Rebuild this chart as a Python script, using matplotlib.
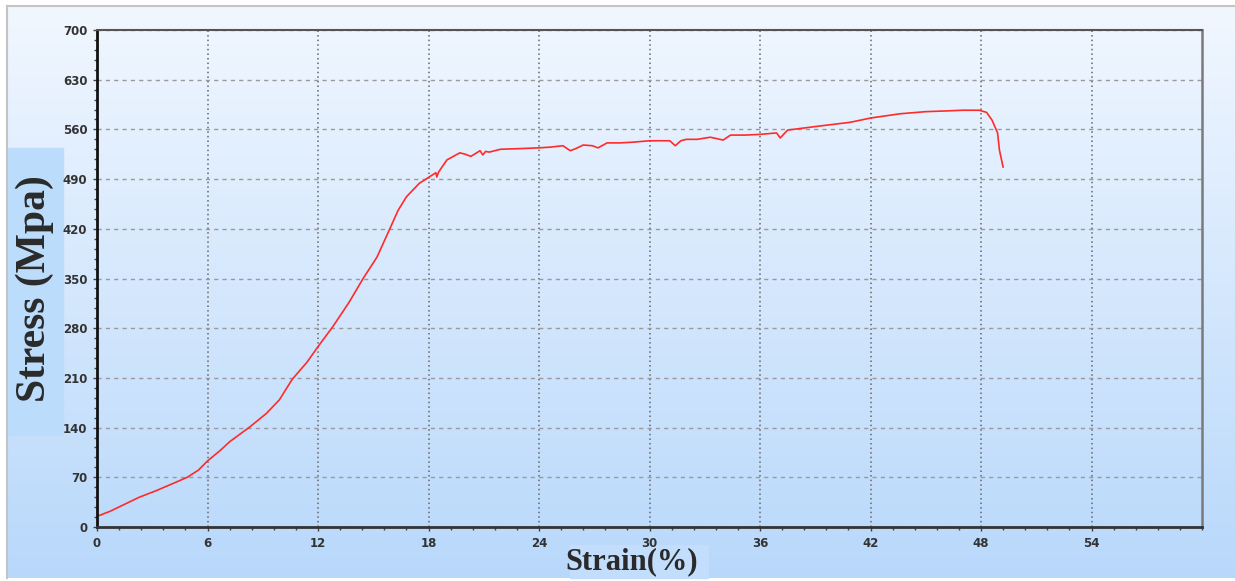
import numpy as np
import matplotlib
matplotlib.use('Agg')
import matplotlib.pyplot as plt
from matplotlib.patches import Rectangle
from matplotlib.ticker import MultipleLocator

# tensile test curve
strain = [0, 0.7, 1.5, 2.3, 3.2, 4.1, 4.9, 5.5, 6.0, 6.7, 7.2, 8.3, 9.2, 9.9, 10.6,
          11.4, 12.0, 12.8, 13.7, 14.45, 15.2, 15.9, 16.35, 16.8, 17.5, 18.1,
          18.4, 18.45, 18.55, 19.0, 19.7, 20.0, 20.3, 20.8, 20.95, 21.1, 21.3, 21.9,
          23.0, 24.0, 24.6, 25.3, 25.7, 26.0, 26.4, 26.9, 27.2, 27.7, 28.4, 29.1, 30.0,
          31.1, 31.4, 31.7, 32.0, 32.6, 33.3, 34.0, 34.4, 35.2, 36.0, 36.9, 37.1, 37.5,
          39.0, 40.9, 42.0, 43.6, 45.0, 46.1, 47.0, 47.9, 48.3, 48.6, 48.9, 49.0, 49.2]
stress = [15, 22, 32, 42, 51, 61, 70, 80, 93, 108, 120, 141, 160, 179, 208,
          232, 254, 282, 317, 350, 380, 420, 446, 465, 484, 494,
          499, 493, 500, 517, 527, 525, 522, 530, 524, 529, 528, 532,
          533, 534, 535, 537, 530, 533, 538, 537, 534, 541, 541, 542, 544,
          544, 537, 544, 546, 546, 549, 545, 552, 552, 553, 555, 548, 559,
          564, 570, 576, 582, 585, 586, 587, 587, 584, 573, 555, 531, 507]

W, H = 1235, 581
fig = plt.figure(figsize=(W / 100, H / 100), dpi=100, facecolor='white')

# gradient background panel
bg = fig.add_axes([8 / W, 3 / H, 1 - 8 / W, (H - 9) / H], zorder=0)
grad = np.linspace(0, 1, 256).reshape(-1, 1)
top_c = np.array([0xf1, 0xf7, 0xff]) / 255
bot_c = np.array([0xb8, 0xd8, 0xfb]) / 255
img = top_c + (bot_c - top_c) * grad[:, :, None]
bg.imshow(img, aspect='auto', extent=[0, 1, 0, 1])
bg.set_xlim(0, 1)
bg.set_ylim(0, 1)
bg.axis('off')

# thin grey frame on top and left
fig.add_artist(plt.Line2D([7 / W, 1], [1 - 6 / H, 1 - 6 / H], color='#c4c4c4', lw=1.5))
fig.add_artist(plt.Line2D([7 / W, 7 / W], [3 / H, 1 - 6 / H], color='#c4c4c4', lw=1.5))

# label boxes
fig.add_artist(Rectangle((8 / W, 1 - 435 / H), 55 / W, 287 / H,
                         transform=fig.transFigure, color='#bcdcfc', zorder=1))
fig.add_artist(Rectangle((570 / W, 3 / H), 138 / W, 33 / H,
                         transform=fig.transFigure, color='#c2defc', zorder=1))

ax = fig.add_axes([97 / W, 1 - 527 / H, (1202 - 97) / W, (527 - 30) / H], zorder=2)
ax.patch.set_alpha(0)

ax.plot(strain, stress, color='#ff2a2a', lw=1.2)

ax.set_xlim(0, 60)
ax.set_ylim(0, 700)
ax.set_xticks(np.arange(0, 55, 6))
ax.set_yticks(np.arange(0, 701, 70))
ax.xaxis.set_minor_locator(MultipleLocator(1.2))
ax.yaxis.set_minor_locator(MultipleLocator(14))

ax.yaxis.grid(True, linestyle=(0, (3, 3)), color='#9a9a9a', lw=1)
ax.xaxis.grid(True, linestyle=(0, (1, 2)), color='#666666', lw=1.1)

ax.tick_params(which='major', length=3, width=1, color='#444444', pad=4,
               labelsize=8.5, labelcolor='#333333')
ax.tick_params(which='minor', length=2, width=1, color='#444444')
for lab in ax.get_xticklabels() + ax.get_yticklabels():
    lab.set_fontweight('bold')

ax.spines['left'].set_color('#111111')
ax.spines['left'].set_linewidth(2)
ax.spines['bottom'].set_color('#333333')
ax.spines['bottom'].set_linewidth(2)
ax.spines['top'].set_color('#555555')
ax.spines['top'].set_linewidth(1.5)
ax.spines['right'].set_color('#7a7a7a')
ax.spines['right'].set_linewidth(1.8)

fig.text(35 / W, 1 - 289 / H, 'Stress (Mpa)', rotation=90, ha='center', va='center',
         family='Liberation Serif', fontweight='bold', fontsize=30, color='#2a2a2a', zorder=3)
fig.text(632 / W, 1 - 562 / H, 'Strain(%)', ha='center', va='center',
         family='Liberation Serif', fontweight='bold', fontsize=22, color='#2a2a2a', zorder=3)

fig.savefig('out.png', dpi=100, facecolor='white')
